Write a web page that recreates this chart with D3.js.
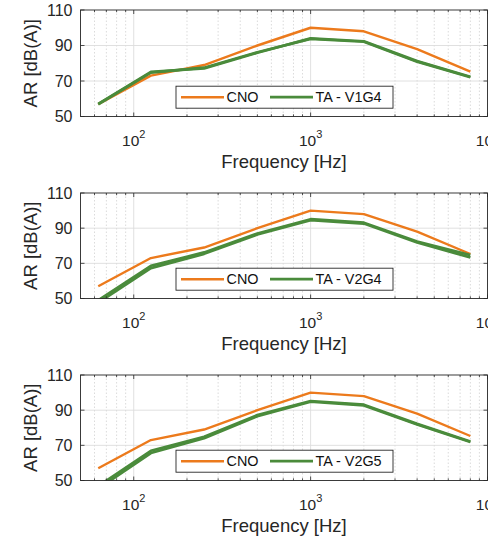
<!DOCTYPE html>
<html><head><meta charset="utf-8">
<script src="https://cdn.jsdelivr.net/npm/d3@7"></script>
<style>body{margin:0;background:#fff}svg{display:block;font-family:"Liberation Sans",Arial,sans-serif}</style>
</head><body><svg id="c" width="488" height="540"></svg>
<script>
const freqs = [63,125,250,500,1000,2000,4000,8000];
const cno = [57,73,79,90,100,98,88,75.3];
const ta1a = [57.1,75.1,77.1,85.9,94,92.4,81.2,72.4];
const ta1b = [56.9,74.7,77.5,86.2,93.7,92.1,80.9,72.1];
const ta2a = [49,68.6,76.2,87,95.1,93.1,82.4,74.7];
const ta2b = [47.6,67.3,75.4,86.4,94.6,92.6,81.9,73.3];
const ta3a = [46.8,66.9,74.9,87.2,95.2,93.1,82.2,72.2];
const ta3b = [45.3,65.6,74,86.6,94.8,92.7,81.9,71.9];
const taLabels = ["TA - V1G4","TA - V2G4","TA - V2G5"];
const taSeries = [[ta1a,ta1b],[ta2a,ta2b],[ta3a,ta3b]];
const yTicks = [50,70,90,110];
const xMajor = [100,1000,10000];
const xLabel = "Frequency [Hz]";
const yLabel = "AR [dB(A)]";
const legendCNO = "CNO";

const svg = d3.select("#c");
const L = 80.5, R = 487.5;
const panels = [{top:10,bot:116.5},{top:193,bot:298.5},{top:375,bot:480.5}];
const ORANGE = "#EC7A1C", GREEN = "#4A8B3B", AX = "#262626";
const x = d3.scaleLog().domain([50,10000]).range([L,R]);
const minor = [];
for (const d of [10,100,1000]) for (let k=2;k<=9;k++){const v=k*d; if(v>50&&v<10000) minor.push(v);}

panels.forEach((p,i)=>{
  const y = d3.scaleLinear().domain([50,110]).range([p.bot,p.top]);
  const g = svg.append("g");
  const cid = "clip"+i;
  svg.append("clipPath").attr("id",cid).append("rect").attr("x",L).attr("y",p.top).attr("width",R-L).attr("height",p.bot-p.top);
  g.selectAll(".mg").data(minor).join("line").attr("x1",d=>x(d)).attr("x2",d=>x(d)).attr("y1",p.top).attr("y2",p.bot)
    .attr("stroke","#d2d2d2").attr("stroke-width",0.8).attr("stroke-dasharray","1.5,2");
  g.selectAll(".xg").data(xMajor.filter(d=>d<10000)).join("line").attr("x1",d=>x(d)).attr("x2",d=>x(d)).attr("y1",p.top).attr("y2",p.bot)
    .attr("stroke","#dcdcdc").attr("stroke-width",0.9);
  g.selectAll(".yg").data(yTicks.slice(1,-1)).join("line").attr("x1",L).attr("x2",R).attr("y1",d=>y(d)).attr("y2",d=>y(d))
    .attr("stroke","#dcdcdc").attr("stroke-width",0.9);
  const line = d3.line().x((d,j)=>x(freqs[j])).y(d=>y(d));
  const lg = g.append("g").attr("clip-path",`url(#${cid})`);
  lg.append("path").datum(cno).attr("d",line).attr("fill","none").attr("stroke",ORANGE).attr("stroke-width",2.4).attr("stroke-linejoin","round");
  taSeries[i].forEach(s=>{
    lg.append("path").datum(s).attr("d",line).attr("fill","none").attr("stroke",GREEN).attr("stroke-width",2.7).attr("stroke-linejoin","round");
  });
  const tk = g.append("g").attr("stroke",AX).attr("stroke-width",0.8);
  xMajor.forEach(d=>{ [p.bot,p.top].forEach((yy,k)=>{ tk.append("line").attr("x1",x(d)).attr("x2",x(d)).attr("y1",yy).attr("y2",k?yy+4:yy-4);});});
  minor.forEach(d=>{ [p.bot,p.top].forEach((yy,k)=>{ tk.append("line").attr("x1",x(d)).attr("x2",x(d)).attr("y1",yy).attr("y2",k?yy+2.2:yy-2.2);});});
  yTicks.forEach(d=>{ tk.append("line").attr("x1",L).attr("x2",L+4).attr("y1",y(d)).attr("y2",y(d));
                      tk.append("line").attr("x1",R).attr("x2",R-4).attr("y1",y(d)).attr("y2",y(d)); });
  g.append("rect").attr("x",L).attr("y",p.top).attr("width",R-L).attr("height",p.bot-p.top).attr("fill","none").attr("stroke",AX).attr("stroke-width",0.9);
  g.selectAll(".yt").data(yTicks).join("text").attr("x",L-8).attr("y",d=>y(d)).attr("dy","0.36em").attr("text-anchor","end")
    .attr("font-size",16).attr("fill",AX).text(d=>d);
  xMajor.forEach(d=>{
    const t = g.append("text").attr("x",x(d)).attr("y",p.bot+29.5).attr("text-anchor","middle").attr("font-size",15.5).attr("fill",AX);
    t.append("tspan").text("10");
    t.append("tspan").attr("dy",-8.5).attr("font-size",11).text(String(Math.round(Math.log10(d))));
  });
  g.append("text").attr("x",(L+R)/2).attr("y",p.bot+51.5).attr("text-anchor","middle").attr("font-size",18.5).attr("fill",AX).text(xLabel);
  const cy = (p.top+p.bot)/2;
  g.append("text").attr("transform",`translate(36.5,${cy}) rotate(-90)`).attr("text-anchor","middle").attr("font-size",18.5).attr("fill",AX).text(yLabel);
  const lx = 176, lyb = p.bot-8.3, lh = 22, lw = 217;
  const leg = g.append("g").attr("transform",`translate(${lx},${lyb-lh})`);
  leg.append("rect").attr("width",lw).attr("height",lh).attr("fill","#fff").attr("stroke",AX).attr("stroke-width",0.9);
  const items = [{c:ORANGE,t:legendCNO,x0:5,w:2.4},{c:GREEN,t:taLabels[i],x0:94,w:2.7}];
  items.forEach(it=>{
    leg.append("line").attr("x1",it.x0).attr("x2",it.x0+43).attr("y1",lh/2).attr("y2",lh/2).attr("stroke",it.c).attr("stroke-width",it.w);
    leg.append("text").attr("x",it.x0+45.5).attr("y",lh/2).attr("dy","0.36em").attr("font-size",14.4).attr("fill","#111").text(it.t);
  });
});
</script></body></html>
